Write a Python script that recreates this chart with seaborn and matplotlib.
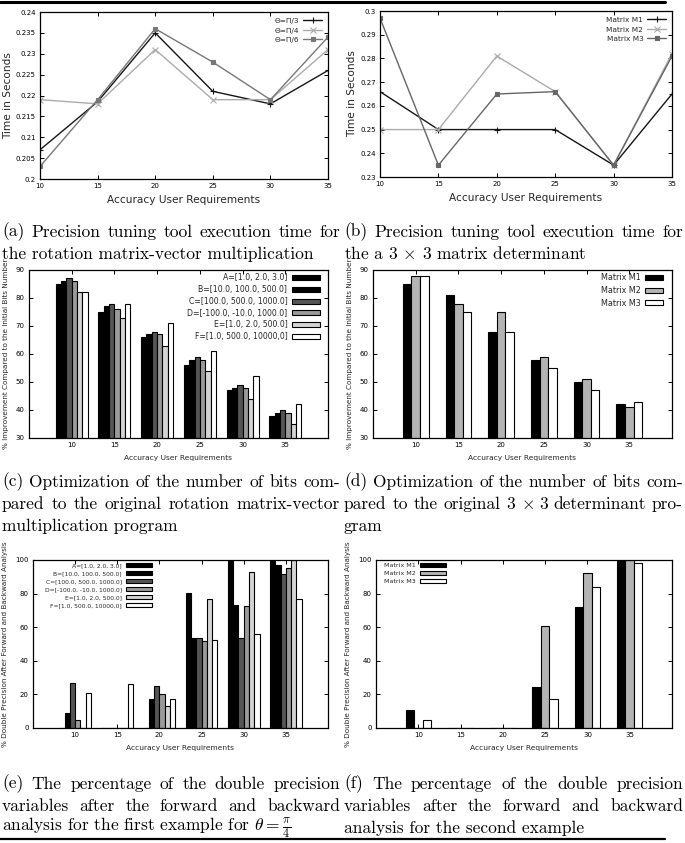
import matplotlib
matplotlib.use('Agg')
import pandas as pd
import matplotlib.pyplot as plt
import seaborn as sns
from matplotlib.lines import Line2D
from matplotlib.ticker import FormatStrFormatter

# %% data
accuracy = [10, 15, 20, 25, 30, 35]

# (a) execution time, rotation matrix-vector product
theta_labels = ['Θ=Π/3', 'Θ=Π/4', 'Θ=Π/6']
time_pi3 = [0.207, 0.2185, 0.235, 0.221, 0.218, 0.226]
time_pi4 = [0.219, 0.218, 0.231, 0.219, 0.219, 0.231]
time_pi6 = [0.203, 0.219, 0.236, 0.228, 0.219, 0.234]

# (b) execution time, 3x3 determinant
matrix_labels = ['Matrix M1', 'Matrix M2', 'Matrix M3']
time_m1 = [0.266, 0.250, 0.250, 0.250, 0.235, 0.265]
time_m2 = [0.250, 0.250, 0.281, 0.266, 0.235, 0.282]
time_m3 = [0.297, 0.235, 0.265, 0.266, 0.235, 0.281]

# (c) bits improvement, rotation
range_labels = ['A=[1.0, 2.0, 3.0]', 'B=[10.0, 100.0, 500.0]',
                'C=[100.0, 500.0, 1000.0]', 'D=[-100.0, -10.0, 1000.0]',
                'E=[1.0, 2.0, 500.0]', 'F=[1.0, 500.0, 10000,0]']
bits_A = [85, 75, 66, 56, 47, 38]
bits_B = [86, 77, 67, 58, 48, 39]
bits_C = [87, 78, 68, 59, 49, 40]
bits_D = [86, 76, 67, 58, 48, 39]
bits_E = [82, 73, 63, 54, 44, 35]
bits_F = [82, 78, 71, 61, 52, 42]

# (d) bits improvement, determinant
bits_M1 = [85, 81, 68, 58, 50, 42]
bits_M2 = [88, 78, 75, 59, 51, 41]
bits_M3 = [88, 75, 68, 55, 47, 43]

# (e) double precision share, rotation
dbl_A = [0, 0, 0, 80.5, 100, 100]
dbl_B = [9, 0, 17.5, 53.5, 73.5, 97]
dbl_C = [27, 0, 25, 53.5, 53.5, 91.5]
dbl_D = [5, 0, 20, 52, 72.5, 95.5]
dbl_E = [0, 0, 13, 76.5, 93, 100]
dbl_F = [21, 26, 17.5, 52.5, 56, 76.5]

# (f) double precision share, determinant
dbl_M1 = [10.5, 0, 0, 24.5, 72, 100]
dbl_M2 = [0, 0, 0, 60.5, 92.5, 100]
dbl_M3 = [5, 0, 0, 17, 84, 98.5]

range_colors = ['#000000', '#000000', '#555555', '#9a9a9a', '#d4d4d4', '#ffffff']
matrix_colors = ['#000000', '#b4b4b4', '#ffffff']

# %% style
sns.set_style('ticks')
plt.rcParams['font.family'] = ['DejaVu Sans']
plt.rcParams['mathtext.fontset'] = 'cm'
plt.rcParams['axes.edgecolor'] = 'black'
plt.rcParams['axes.linewidth'] = 0.9

W, H = 685, 843
fig = plt.figure(figsize=(W / 100, H / 100), dpi=100)


def px_axes(l, t, r, b):
    return fig.add_axes([l / W, 1 - b / H, (r - l) / W, (b - t) / H])


def gp_ticks(ax, size):
    ax.tick_params(direction='in', top=True, right=True, length=3, width=0.7,
                   labelsize=size, colors='black', pad=3)
    for s in ax.spines.values():
        s.set_visible(True)


def long_df(series, labels):
    rows = []
    for lab, vals in zip(labels, series):
        for x, v in zip(accuracy, vals):
            rows.append(dict(acc=str(x), series=lab, value=v))
    return pd.DataFrame(rows)


def line_panel(ax, series, labels, colors, markers, ylim, yticks):
    for vals, lab, c, m in zip(series, labels, colors, markers):
        ms = 2.6 if m == 's' else 4
        sns.lineplot(x=accuracy, y=vals, ax=ax, color=c, marker=m, markersize=ms,
                     markeredgewidth=0.8, markeredgecolor=c, lw=1, label=lab)
    ax.set_xlim(10, 35)
    ax.set_ylim(*ylim)
    ax.set_xticks(accuracy)
    ax.set_yticks(yticks)
    ax.yaxis.set_major_formatter(FormatStrFormatter('%g'))
    gp_ticks(ax, 5)
    ax.set_xlabel('Accuracy User Requirements', fontsize=7.6, labelpad=4)
    ax.set_ylabel('Time in Seconds', fontsize=7.6, labelpad=2)
    ax.legend(loc='upper right', markerfirst=False, frameon=False, fontsize=5.3,
              handlelength=2.6, labelspacing=0.45, borderaxespad=0.4,
              handletextpad=0.5)


def bar_panel(ax, series, labels, colors, width, ylim, yticks, ylabel, leg):
    df = long_df(series, labels)
    sns.barplot(data=df, x='acc', y='value', hue='series', palette=colors,
                width=width, gap=0, saturation=1, errorbar=None,
                edgecolor='black', linewidth=0.8, ax=ax)
    ax.set_xlim(-1, 6)
    ax.set_ylim(*ylim)
    ax.set_yticks(yticks)
    gp_ticks(ax, 5)
    ax.set_xlabel('Accuracy User Requirements', fontsize=5.4, labelpad=5)
    ax.set_ylabel(ylabel, fontsize=5.2, labelpad=5)
    h, l = ax.get_legend_handles_labels()
    ax.legend(h, l, markerfirst=False, frameon=False, fontsize=leg['fs'],
              handlelength=leg['hl'], handleheight=leg['hh'], labelspacing=leg['sp'],
              handletextpad=0.6, loc=leg['loc'], bbox_to_anchor=leg['anchor'],
              borderaxespad=0, borderpad=0)


# %% panels
ax = px_axes(40, 12, 328, 179)
line_panel(ax, [time_pi3, time_pi4, time_pi6], theta_labels,
           ['#151515', '#ababab', '#777777'], ['+', 'x', 's'],
           (0.2, 0.24), [0.2 + 0.005 * i for i in range(9)])

ax = px_axes(380, 11, 672, 177)
line_panel(ax, [time_m1, time_m2, time_m3], matrix_labels,
           ['#151515', '#ababab', '#666666'], ['+', 'x', 's'],
           (0.23, 0.3), [0.23 + 0.01 * i for i in range(8)])

bits_ylabel = '% Improvement Compared to the Initial Bits Number'
ax = px_axes(29, 270, 328, 438)
bar_panel(ax, [bits_A, bits_B, bits_C, bits_D, bits_E, bits_F], range_labels,
          range_colors, 0.75, (30, 90), range(30, 91, 10), bits_ylabel,
          dict(fs=5.6, hl=3.6, hh=0.6, sp=0.35, loc='upper right',
               anchor=(0.973, 0.98)))

ax = px_axes(373, 270, 672, 438)
bar_panel(ax, [bits_M1, bits_M2, bits_M3], matrix_labels, matrix_colors, 0.6,
          (30, 90), range(30, 91, 10), bits_ylabel,
          dict(fs=5.8, hl=2.2, hh=0.6, sp=0.45, loc='upper right',
               anchor=(0.97, 0.98)))

dbl_ylabel = '% Double Precision After Forward and Backward Analysis'
ax = px_axes(33, 560, 328, 728)
bar_panel(ax, [dbl_A, dbl_B, dbl_C, dbl_D, dbl_E, dbl_F], range_labels,
          range_colors, 0.75, (0, 100), range(0, 101, 20), dbl_ylabel,
          dict(fs=4.3, hl=4.4, hh=0.8, sp=0.45, loc='upper right',
               anchor=(0.403, 0.985)))

ax = px_axes(376, 560, 672, 728)
bar_panel(ax, [dbl_M1, dbl_M2, dbl_M3], matrix_labels, matrix_colors, 0.6,
          (0, 100), range(0, 101, 20), dbl_ylabel,
          dict(fs=4.6, hl=4.1, hh=0.75, sp=0.4, loc='upper left',
               anchor=(0.027, 0.985)))

# %% captions (justified like the LaTeX source)
renderer = fig.canvas.get_renderer()
CAP = dict(fontsize=12.5, family=['cmr10', 'DejaVu Serif'], va='center',
           ha='left', color='black')


def caption_line(x0, x1, y, text, justify):
    if not justify:
        fig.text(x0 / W, 1 - y / H, text, **CAP)
        return
    words = text.split(' ')
    objs = [fig.text(0, 1 - y / H, w, **CAP) for w in words]
    widths = [o.get_window_extent(renderer).width for o in objs]
    gap = (x1 - x0 - sum(widths)) / (len(words) - 1)
    pos = x0
    for o, w in zip(objs, widths):
        o.set_x(pos / W)
        pos += w + gap


captions = [
    (2, 340, [232, 254], ['(a) Precision tuning tool execution time for',
                          'the rotation matrix-vector multiplication']),
    (344, 683, [232, 254], ['(b) Precision tuning tool execution time for',
                            'the a 3 $\\times$ 3 matrix determinant']),
    (2, 340, [482, 504, 526], ['(c) Optimization of the number of bits com-',
                               'pared to the original rotation matrix-vector',
                               'multiplication program']),
    (344, 683, [482, 504, 526], ['(d) Optimization of the number of bits com-',
                                 'pared to the original 3 $\\times$ 3 determinant pro-',
                                 'gram']),
    (2, 340, [784, 806, 828], ['(e) The percentage of the double precision',
                               'variables after the forward and backward',
                               'analysis for the first example for $\\theta = \\frac{\\pi}{4}$']),
    (344, 683, [784, 806, 828], ['(f) The percentage of the double precision',
                                 'variables after the forward and backward',
                                 'analysis for the second example']),
]
for x0, x1, ys, lines in captions:
    for i, (y, txt) in enumerate(zip(ys, lines)):
        caption_line(x0, x1, y, txt, justify=i < len(lines) - 1)

# page rules
fig.add_artist(Line2D([0, 665 / W], [1 - 1.5 / H] * 2, color='black', lw=2.2,
                      transform=fig.transFigure))
fig.add_artist(Line2D([0, 665 / W], [1 - 839 / H] * 2, color='black', lw=1.6,
                      transform=fig.transFigure))

fig.savefig('out.png', dpi=100)
